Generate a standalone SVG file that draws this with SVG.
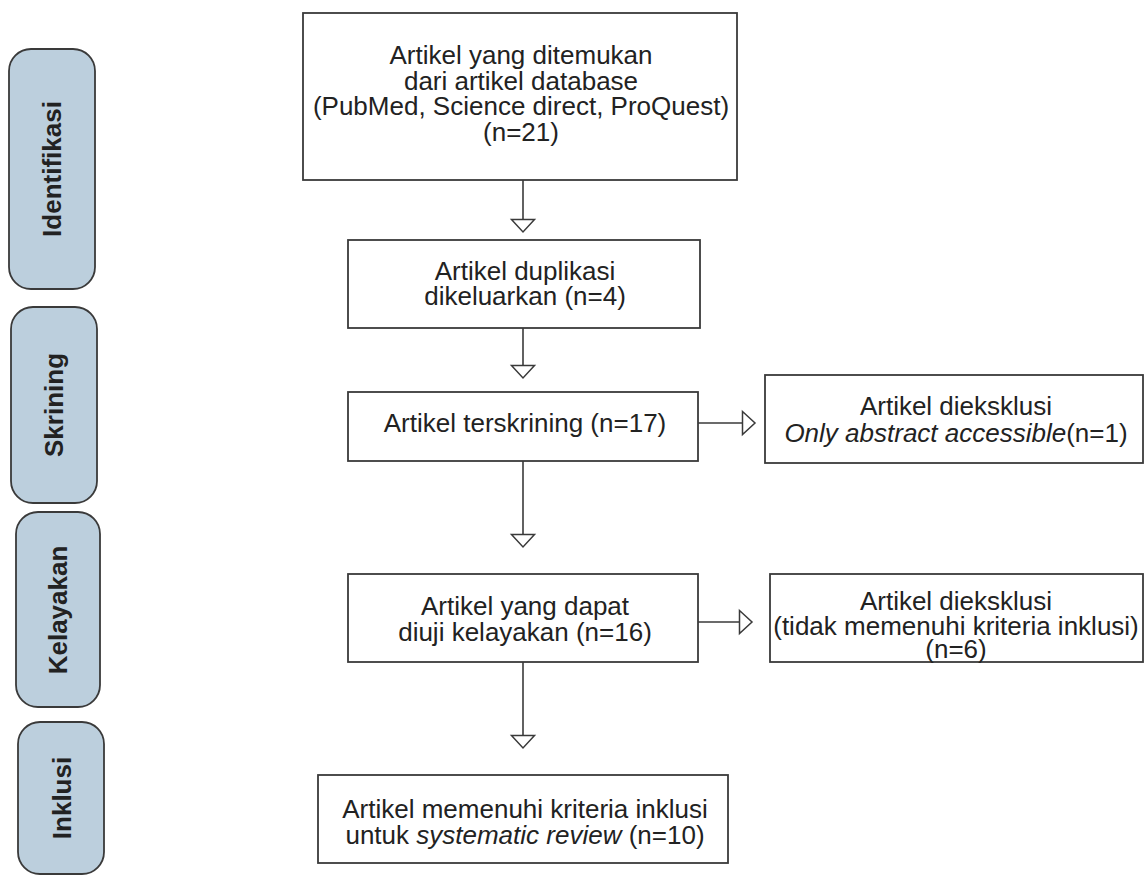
<svg xmlns="http://www.w3.org/2000/svg" width="1145" height="878" viewBox="0 0 1145 878">
<style>
.box{fill:#ffffff;stroke:#3a3a3a;stroke-width:1.8}
.side{fill:#bccfdd;stroke:#3a3a3a;stroke-width:1.8}
.t{font-family:"Liberation Sans",Arial,sans-serif;font-size:26px;fill:#222;text-anchor:middle}
.st{font-family:"Liberation Sans",Arial,sans-serif;font-size:26px;font-weight:bold;fill:#222;text-anchor:middle}
.c{stroke:#3a3a3a;stroke-width:1.6;fill:none;marker-end:url(#arr)}
.i{font-style:italic}
</style>
<defs>
<marker id="arr" markerUnits="userSpaceOnUse" markerWidth="16" markerHeight="28" viewBox="0 0 16 28" refX="14" refY="14" orient="auto">
<path d="M1.5,2.5 L14,14 L1.5,25.5 Z" fill="#fff" stroke="#3a3a3a" stroke-width="1.5"/>
</marker>
</defs>
<rect width="1145" height="878" fill="#fff"/>
<g id="side-identifikasi"><rect class="side" x="9" y="49" width="86" height="240" rx="22"/><text class="st" transform="translate(61,169) rotate(-90)">Identifikasi</text></g>
<g id="side-skrining"><rect class="side" x="11" y="307" width="86" height="196" rx="22"/><text class="st" transform="translate(63,405) rotate(-90)">Skrining</text></g>
<g id="side-kelayakan"><rect class="side" x="16" y="512" width="84" height="195" rx="22"/><text class="st" transform="translate(67,610) rotate(-90)">Kelayakan</text></g>
<g id="side-inklusi"><rect class="side" x="18" y="722" width="86" height="152" rx="22"/><text class="st" transform="translate(71,798) rotate(-90)">Inklusi</text></g>
<g id="connectors">
<line class="c" x1="523" y1="180" x2="523" y2="232"/>
<line class="c" x1="523" y1="328" x2="523" y2="378"/>
<line class="c" x1="523" y1="461" x2="523" y2="547"/>
<line class="c" x1="523" y1="662" x2="523" y2="748"/>
<line class="c" x1="698" y1="423" x2="755" y2="423"/>
<line class="c" x1="698" y1="622" x2="752" y2="622"/>
</g>
<g id="n1"><rect class="box" x="303" y="13" width="434" height="167"/>
<text class="t" x="521" y="64">Artikel yang ditemukan</text>
<text class="t" x="521" y="90">dari artikel database</text>
<text class="t" x="521" y="115">(PubMed, Science direct, ProQuest)</text>
<text class="t" x="521" y="141">(n=21)</text></g>
<g id="n2"><rect class="box" x="348" y="240" width="352" height="88"/>
<text class="t" x="525" y="280">Artikel duplikasi</text>
<text class="t" x="525" y="305">dikeluarkan (n=4)</text></g>
<g id="n3"><rect class="box" x="348" y="392" width="350" height="69"/>
<text class="t" x="525" y="432">Artikel terskrining (n=17)</text></g>
<g id="n3x"><rect class="box" x="765" y="375" width="378" height="88"/>
<text class="t" x="956" y="415">Artikel dieksklusi</text>
<text class="t" x="956" y="442"><tspan class="i">Only abstract accessible</tspan>(n=1)</text></g>
<g id="n4"><rect class="box" x="348" y="574" width="350" height="88"/>
<text class="t" x="525" y="615">Artikel yang dapat</text>
<text class="t" x="525" y="641">diuji kelayakan (n=16)</text></g>
<g id="n4x"><rect class="box" x="770" y="574" width="373" height="88"/>
<text class="t" x="956" y="610">Artikel dieksklusi</text>
<text class="t" x="956" y="635">(tidak memenuhi kriteria inklusi)</text>
<text class="t" x="956" y="658">(n=6)</text></g>
<g id="n5"><rect class="box" x="318" y="775" width="410" height="88"/>
<text class="t" x="525" y="818">Artikel memenuhi kriteria inklusi</text>
<text class="t" x="525" y="844">untuk <tspan class="i">systematic review</tspan> (n=10)</text></g>
</svg>
